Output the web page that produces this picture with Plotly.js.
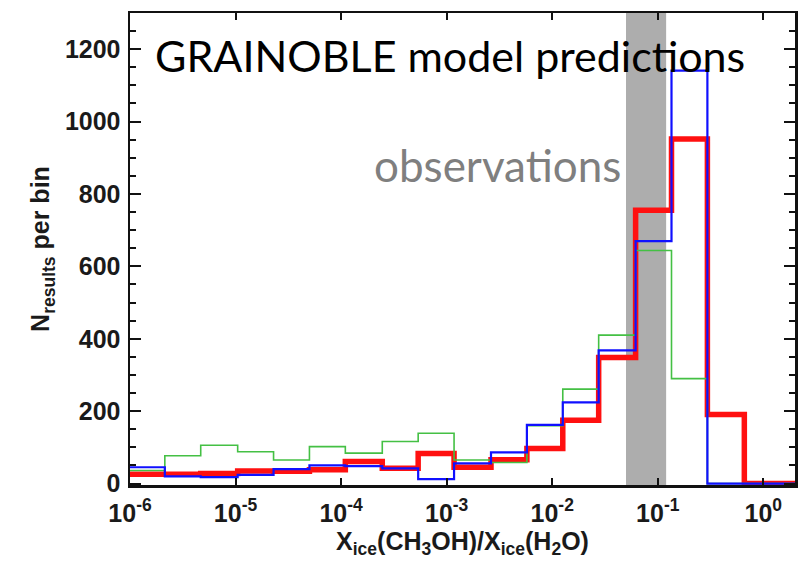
<!DOCTYPE html>
<html>
<head>
<meta charset="utf-8">
<script src="https://cdn.plot.ly/plotly-3.0.1.min.js"></script>
<style>html,body{margin:0;padding:0;background:#fff;}#chart{width:798px;height:561px;}</style>
</head>
<body>
<div id="chart"></div>
<script>
// Bin edges (log10 of X_ice(CH3OH)/X_ice(H2O))
const binEdgeExp = [-6.01, -5.67, -5.33, -4.98, -4.64, -4.30, -3.96, -3.61, -3.27, -2.93, -2.58, -2.24, -1.90, -1.56, -1.21, -0.87, -0.53, -0.18, 0.16, 0.50];
// N results per bin for each model set
const greenCounts = [36, 77, 106, 88, 65, 102, 84, 116, 139, 65, 58, 160, 261, 410, 644, 290, 0, 0, 0];
const blueCounts  = [45, 20, 18, 24, 40, 50, 48, 42, 12, 56, 86, 162, 224, 368, 670, 1141, 0, 0, 0];
const redCounts   = [26, 26, 28, 35, 34, 38, 61, 42, 83, 45, 66, 97, 175, 348, 755, 952, 191, 0, 0];
// observed range
const obsRange = [0.05, 0.12];
const xTickVals = [1e-6, 1e-5, 1e-4, 1e-3, 1e-2, 1e-1, 1];
const xTickText = ['10<sup>-6</sup>', '10<sup>-5</sup>', '10<sup>-4</sup>', '10<sup>-3</sup>', '10<sup>-2</sup>', '10<sup>-1</sup>', '10<sup>0</sup>'];
const yTickVals = [0, 200, 400, 600, 800, 1000, 1200];

const edges = binEdgeExp.map(e => Math.pow(10, e));
function stepY(c) { return c.concat([c[c.length - 1]]); }

function trace(counts, color, width) {
  return {x: edges, y: stepY(counts), type: 'scatter', mode: 'lines',
    line: {shape: 'hv', color: color, width: width}, hoverinfo: 'skip', showlegend: false};
}

const data = [
  trace(redCounts, '#ff1010', 5.5),
  trace(greenCounts, '#44c044', 1.6),
  trace(blueCounts, '#1010ff', 2.2)
];

const tickFont = {family: 'Liberation Sans, Arial, sans-serif', size: 25, color: '#1a1a1a', weight: 'bold'};
const titleFont = {family: 'Liberation Sans, Arial, sans-serif', size: 25, color: '#1a1a1a', weight: 'bold'};
const noteFamily = 'Lato, Open Sans, sans-serif';

const layout = {
  width: 798, height: 561,
  margin: {l: 130, r: 3, t: 13, b: 76},
  paper_bgcolor: '#fff', plot_bgcolor: '#fff',
  xaxis: {
    type: 'log', range: [-6, 0.3],
    tickmode: 'array', tickvals: xTickVals, ticktext: xTickText,
    ticks: 'inside', ticklen: 7, tickwidth: 2, tickcolor: '#111',
    showline: true, linewidth: 2.5, linecolor: '#111', mirror: 'ticks',
    showgrid: false, zeroline: false,
    tickfont: tickFont, ticklabelstandoff: 4,
    title: {text: 'X<sub>ice</sub>(CH<sub>3</sub>OH)/X<sub>ice</sub>(H<sub>2</sub>O)', font: titleFont, standoff: 2}
  },
  yaxis: {
    range: [-4, 1300],
    tickmode: 'array', tickvals: yTickVals,
    ticks: 'inside', ticklen: 11, tickwidth: 2, tickcolor: '#111',
    minor: {dtick: 50, tick0: 0, ticks: 'inside', ticklen: 6, tickwidth: 2, tickcolor: '#111'},
    showline: true, linewidth: 2.5, linecolor: '#111', mirror: 'ticks',
    showgrid: false, zeroline: false,
    tickfont: tickFont, ticklabelstandoff: 2,
    title: {text: 'N<sub>results</sub> per bin', font: titleFont, standoff: 8}
  },
  shapes: [{type: 'rect', xref: 'x', yref: 'paper', x0: obsRange[0], x1: obsRange[1], y0: 0, y1: 1,
    fillcolor: '#adadad', line: {width: 0}, layer: 'below'}],
  annotations: [
    {text: 'GRAINOBLE model predictions', xref: 'paper', yref: 'paper', x: 0.481, y: 0.911,
     xanchor: 'center', yanchor: 'middle',
     showarrow: false, font: {family: noteFamily, size: 43, color: '#000'}},
    {text: 'observations', xref: 'paper', yref: 'paper', x: 0.552, y: 0.678,
     xanchor: 'center', yanchor: 'middle',
     showarrow: false, font: {family: noteFamily, size: 44, color: '#7f7f7f'}}
  ]
};

Plotly.newPlot('chart', data, layout, {staticPlot: true, displayModeBar: false});
</script>
</body>
</html>
